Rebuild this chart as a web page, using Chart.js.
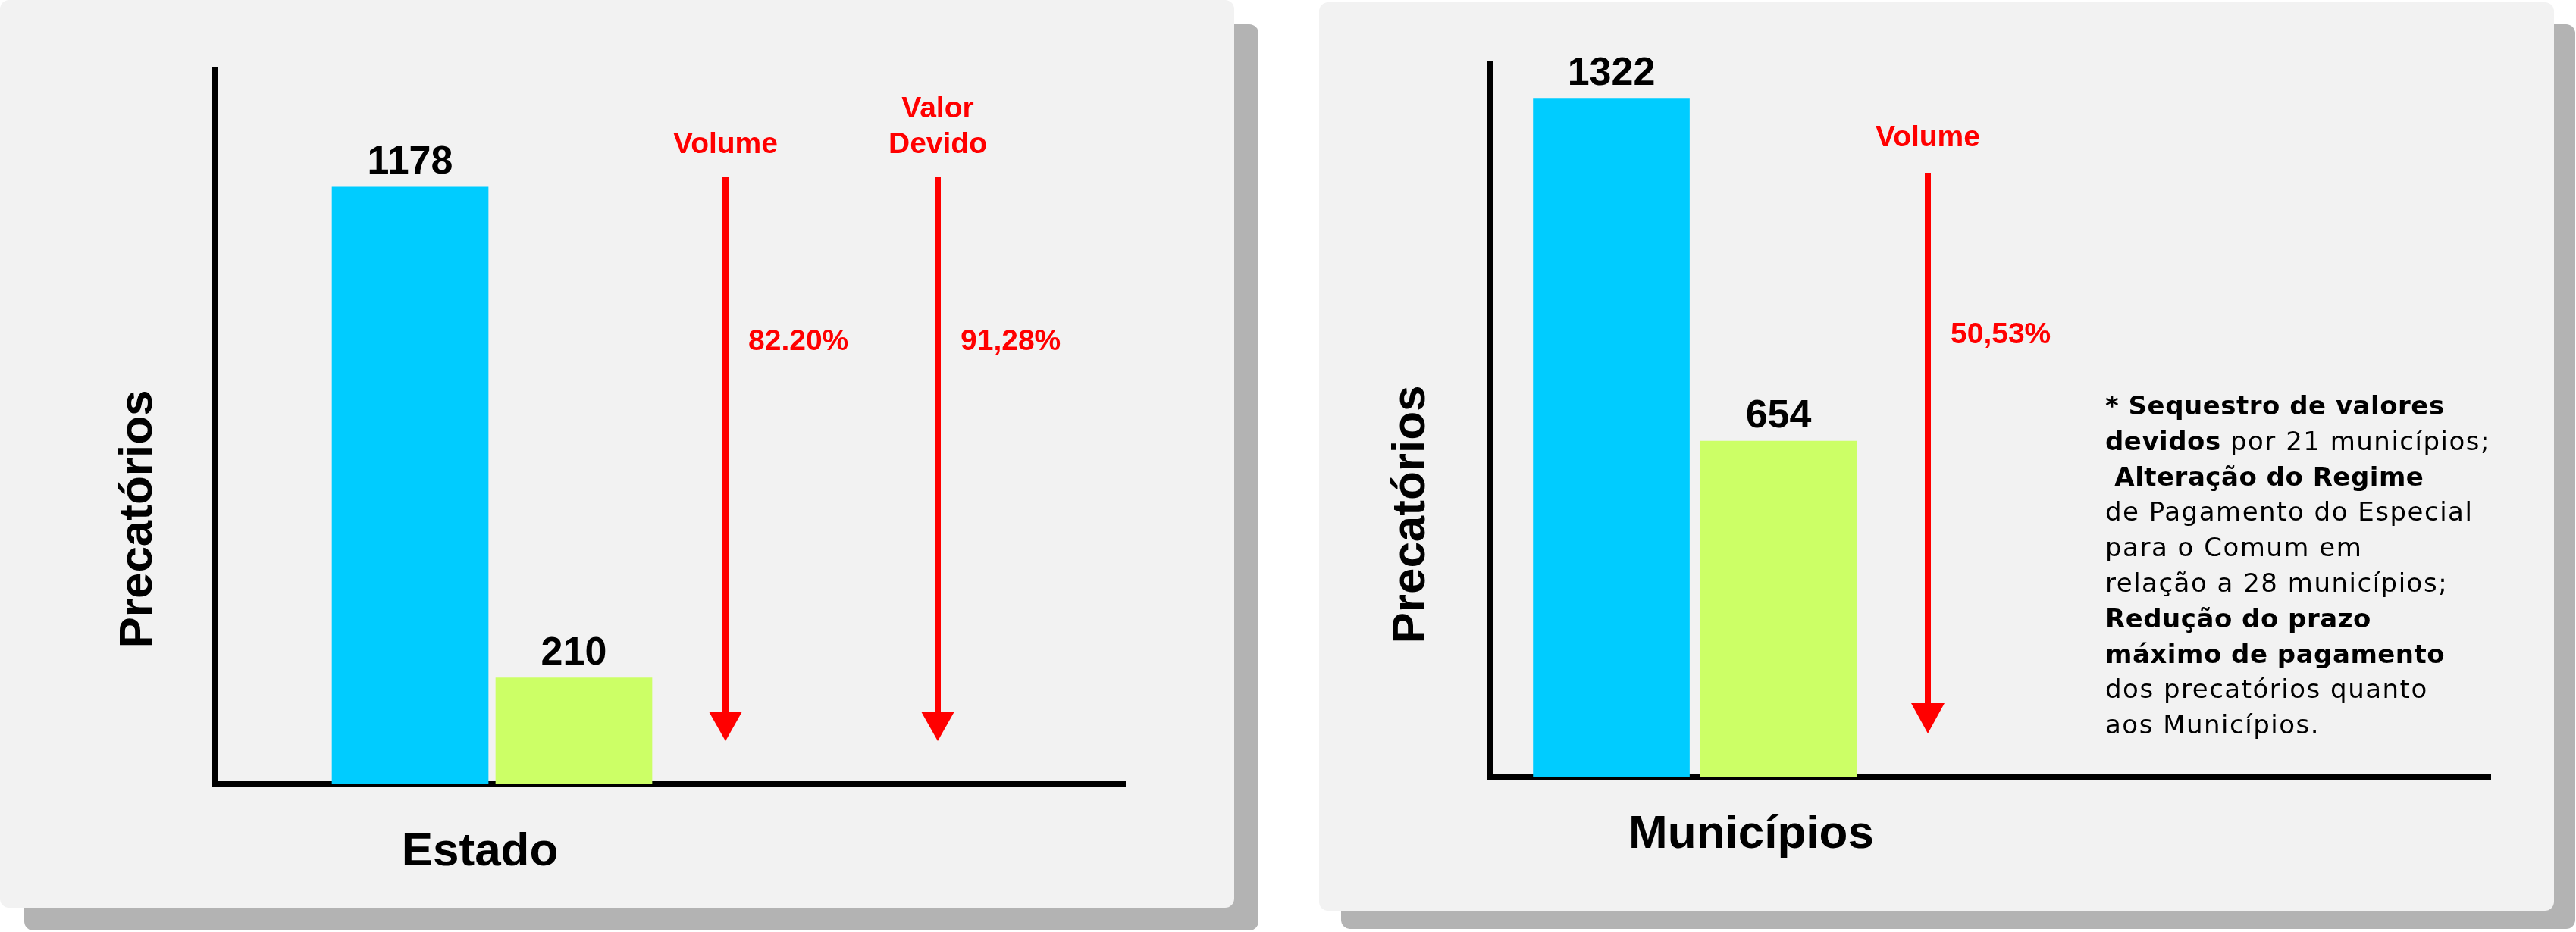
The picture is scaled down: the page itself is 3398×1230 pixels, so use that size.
<!DOCTYPE html>
<html><head><meta charset="utf-8">
<script src="https://cdn.jsdelivr.net/npm/chart.js@4.4.0/dist/chart.umd.min.js"></script>
<style>
html,body{margin:0;padding:0;background:#ffffff;width:3398px;height:1230px;overflow:hidden;}
.box{position:absolute;border-radius:12px;}
canvas{position:absolute;top:0;}
</style></head><body>
<div class="box" style="left:32px;top:32px;width:1628px;height:1196px;background:#b3b3b3"></div>
<div class="box" style="left:0;top:0;width:1628px;height:1198px;background:#f2f2f2"></div>
<div class="box" style="left:1769px;top:32px;width:1628px;height:1194px;background:#b3b3b3"></div>
<div class="box" style="left:1740px;top:3px;width:1629px;height:1199px;background:#f2f2f2"></div>
<canvas id="c1" width="1700" height="1230" style="left:0px;width:1700px;height:1230px"></canvas>
<canvas id="c2" width="1698" height="1230" style="left:1700px;width:1698px;height:1230px"></canvas>
<script>
// ---- data ----
const barIndex = [1, 2];
const estadoValues = [1178, 210];
const municipiosValues = [1322, 654];
const barColors = ['#00CCFF', '#CCFF66'];
const estadoDropLabels = ['82.20%', '91,28%'];
const estadoDropTitles = [['Volume'], ['Valor', 'Devido']];
const municipiosDropLabels = ['50,53%'];
const municipiosDropTitles = [['Volume']];
const yTitle = 'Precatórios';
const estadoTitle = 'Estado';
const municipiosTitle = 'Municípios';
const noteLines = [
  [['* Sequestro de valores', true]],
  [['devidos', true], [' por 21 municípios;', false]],
  [[' Alteração do Regime', true]],
  [['de Pagamento do Especial', false]],
  [['para o Comum em', false]],
  [['relação a 28 municípios;', false]],
  [['Redução do prazo', true]],
  [['máximo de pagamento', true]],
  [['dos precatórios quanto', false]],
  [['aos Municípios.', false]]
];

const RED = '#FF0000';
const LBL = '"Liberation Sans", Arial, sans-serif';
const NOTE = '"DejaVu Sans", sans-serif';

const overlay = {
  id: 'overlay',
  afterDraw(chart, args, o) {
    const ctx = chart.ctx;
    ctx.save();
    // value labels above bars
    const meta = chart.getDatasetMeta(0);
    ctx.fillStyle = '#000';
    ctx.font = 'bold 52px ' + LBL;
    ctx.textAlign = 'center';
    ctx.textBaseline = 'alphabetic';
    meta.data.forEach((bar, i) => {
      ctx.fillText(String(chart.data.datasets[0].data[i].y), bar.x, bar.y - 18);
    });
    // x title
    ctx.font = 'bold 62px ' + LBL;
    ctx.fillText(o.xTitle.text, o.xTitle.x, o.xTitle.y);
    // y title rotated
    ctx.save();
    ctx.translate(o.yTitle.x, o.yTitle.y);
    ctx.rotate(-Math.PI / 2);
    ctx.fillText(o.yTitle.text, 0, 0);
    ctx.restore();
    // arrows
    ctx.strokeStyle = RED; ctx.fillStyle = RED; ctx.lineWidth = 8;
    o.arrows.forEach(a => {
      ctx.beginPath();
      ctx.moveTo(a.x, a.top);
      ctx.lineTo(a.x, a.headTop + 4);
      ctx.stroke();
      ctx.beginPath();
      ctx.moveTo(a.x - 22, a.headTop);
      ctx.lineTo(a.x + 22, a.headTop);
      ctx.lineTo(a.x, a.tip);
      ctx.closePath();
      ctx.fill();
      // title lines
      ctx.font = 'bold 39px ' + LBL;
      ctx.textAlign = 'center';
      a.title.forEach((t, k) => ctx.fillText(t, a.x, a.titleY - (a.title.length - 1 - k) * 47));
      ctx.textAlign = 'left';
      ctx.fillText(a.label, a.x + 30, a.labelY);
    });
    // notes
    if (o.notes) {
      ctx.fillStyle = '#000';
      ctx.textAlign = 'left';
      o.notes.lines.forEach((line, i) => {
        let x = o.notes.x;
        const y = o.notes.y + i * o.notes.step;
        line.forEach(([txt, bold]) => {
          ctx.font = (bold ? 'bold ' : '') + '34px ' + NOTE;
          try { ctx.letterSpacing = bold ? '0.5px' : '1.5px'; } catch (e) {}
          ctx.fillText(txt, x, y);
          x += ctx.measureText(txt).width;
        });
      });
      try { ctx.letterSpacing = '0px'; } catch (e) {}
    }
    ctx.restore();
  }
};

function makeChart(id, values, xmin, xmax, ymax, padding, ov) {
  return new Chart(document.getElementById(id), {
    type: 'bar',
    data: {
      datasets: [{
        data: barIndex.map((x, i) => ({ x: x, y: values[i] })),
        backgroundColor: barColors,
        borderWidth: 0,
        barThickness: 206
      }]
    },
    options: {
      responsive: false,
      animation: false,
      devicePixelRatio: 1,
      layout: { padding: padding },
      plugins: { legend: { display: false }, tooltip: { enabled: false }, overlay: ov },
      scales: {
        x: {
          type: 'linear', min: xmin, max: xmax, z: 1, offset: false,
          ticks: { display: false },
          grid: { display: false, drawTicks: false, offset: false },
          border: { display: true, color: '#000', width: 8 }
        },
        y: {
          min: 0, max: ymax, z: 1,
          ticks: { display: false },
          grid: { display: false, drawTicks: false },
          border: { display: true, color: '#000', width: 8 }
        }
      }
    },
    plugins: [overlay]
  });
}

makeChart('c1', estadoValues, -0.190, 5.366, 1408,
  { left: 284, right: 216, top: 93, bottom: 195 },
  {
    xTitle: { text: estadoTitle, x: 633, y: 1142 },
    yTitle: { text: yTitle, x: 200, y: 685 },
    arrows: [
      { x: 957, top: 234, headTop: 939, tip: 978, title: estadoDropTitles[0], titleY: 202, label: estadoDropLabels[0], labelY: 462 },
      { x: 1237, top: 234, headTop: 939, tip: 978, title: estadoDropTitles[1], titleY: 202, label: estadoDropLabels[1], labelY: 462 }
    ]
  });

makeChart('c2', municipiosValues, 0.272, 6.258, 1388,
  { left: 265, right: 113, top: 85, bottom: 205 },
  {
    xTitle: { text: municipiosTitle, x: 610, y: 1119 },
    yTitle: { text: yTitle, x: 179, y: 679 },
    arrows: [
      { x: 843, top: 228, headTop: 928, tip: 968, title: municipiosDropTitles[0], titleY: 193, label: municipiosDropLabels[0], labelY: 453 }
    ],
    notes: { lines: noteLines, x: 1077, y: 547, step: 46.8 }
  });
</script>
</body></html>
